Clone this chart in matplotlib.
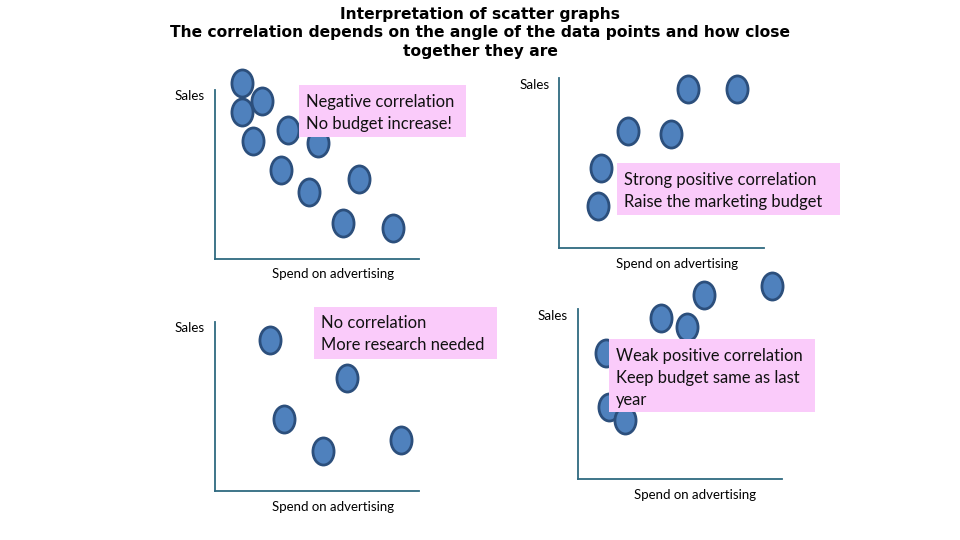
import matplotlib
matplotlib.use("Agg")
import matplotlib.pyplot as plt
from matplotlib.markers import MarkerStyle
from matplotlib.patches import Rectangle
from matplotlib.transforms import Affine2D

W, H = 960, 540

# points per panel, in pixels from the axis corner (x right, y up)
neg_x = [27, 47, 27, 38, 73, 103, 66, 94, 144, 128, 178]
neg_y = [176, 158, 147, 118, 129, 116, 89, 67, 80, 36, 31]

strong_x = [129, 178, 69, 112, 42, 39]
strong_y = [159, 159, 117, 114, 80, 42]

none_x = [55, 132, 69, 108, 186]
none_y = [151, 113, 72, 40, 51]

weak_x = [194, 126, 83, 109, 28, 31, 47]
weak_y = [193, 184, 161, 152, 126, 72, 59]

# panel frame: left x, top y, right x, bottom y (pixels)
panels = [
    dict(box=(215, 90, 419, 259), x=neg_x, y=neg_y,
         sales=(190, 96), spend=(333, 274),
         note=(299, 85, 466, 137), lines=["Negative correlation", "No budget increase!"]),
    dict(box=(559, 78, 764, 248), x=strong_x, y=strong_y,
         sales=(535, 85), spend=(677, 264),
         note=(617, 163, 840, 215), lines=["Strong positive correlation", "Raise the marketing budget"]),
    dict(box=(215, 322, 419, 491), x=none_x, y=none_y,
         sales=(190, 328), spend=(333, 507),
         note=(314, 307, 497, 359), lines=["No correlation", "More research needed"]),
    dict(box=(578, 309, 782, 479), x=weak_x, y=weak_y,
         sales=(553, 316), spend=(695, 495),
         note=(609, 339, 815, 412), lines=["Weak positive correlation", "Keep budget same as last", "year"]),
]

fig = plt.figure(figsize=(W / 100, H / 100), dpi=100)
fig.patch.set_facecolor("white")

def fx(x):
    return x / W

def fy(y):
    return 1 - y / H

oval = MarkerStyle("o", transform=Affine2D().scale(0.78, 1.0))
axis_col = "#2f6a80"

for p in panels:
    x0, y0, x1, y1 = p["box"]
    ax = fig.add_axes([fx(x0), fy(y1), (x1 - x0) / W, (y1 - y0) / H])
    ax.set_xlim(0, x1 - x0)
    ax.set_ylim(0, y1 - y0)
    ax.patch.set_visible(False)
    for s in ["top", "right"]:
        ax.spines[s].set_visible(False)
    for s in ["left", "bottom"]:
        ax.spines[s].set_color(axis_col)
        ax.spines[s].set_linewidth(1.3)
    ax.set_xticks([])
    ax.set_yticks([])
    ax.plot(p["x"], p["y"], linestyle="none", marker=oval, markersize=19.5,
            markerfacecolor="#4f81bd", markeredgecolor="#2c4f7c",
            markeredgewidth=2.0, clip_on=False)

    fig.text(fx(p["sales"][0]), fy(p["sales"][1]), "Sales", ha="center", va="center",
             fontsize=9.6, family="Lato")
    fig.text(fx(p["spend"][0]), fy(p["spend"][1]), "Spend on advertising", ha="center",
             va="center", fontsize=9.5, family="Lato")

    nx0, ny0, nx1, ny1 = p["note"]
    fig.patches.append(Rectangle((fx(nx0), fy(ny1)), (nx1 - nx0) / W, (ny1 - ny0) / H,
                                 transform=fig.transFigure, facecolor="#facbfa",
                                 edgecolor="none", zorder=2))
    for i, line in enumerate(p["lines"]):
        fig.text(fx(nx0 + 7), fy(ny0 + 16.5 + 22 * i), line, ha="left", va="center",
                 fontsize=11.9, family="Lato", color="#111111", zorder=3)

title = ["Interpretation of scatter graphs",
         "The correlation depends on the angle of the data points and how close",
         "together they are"]
for i, t in enumerate(title):
    fig.text(0.5, fy(14.5 + 18.5 * i), t, ha="center", va="center", fontsize=11.2,
             fontweight="bold", family="DejaVu Sans")

fig.savefig("out.png", dpi=100)
